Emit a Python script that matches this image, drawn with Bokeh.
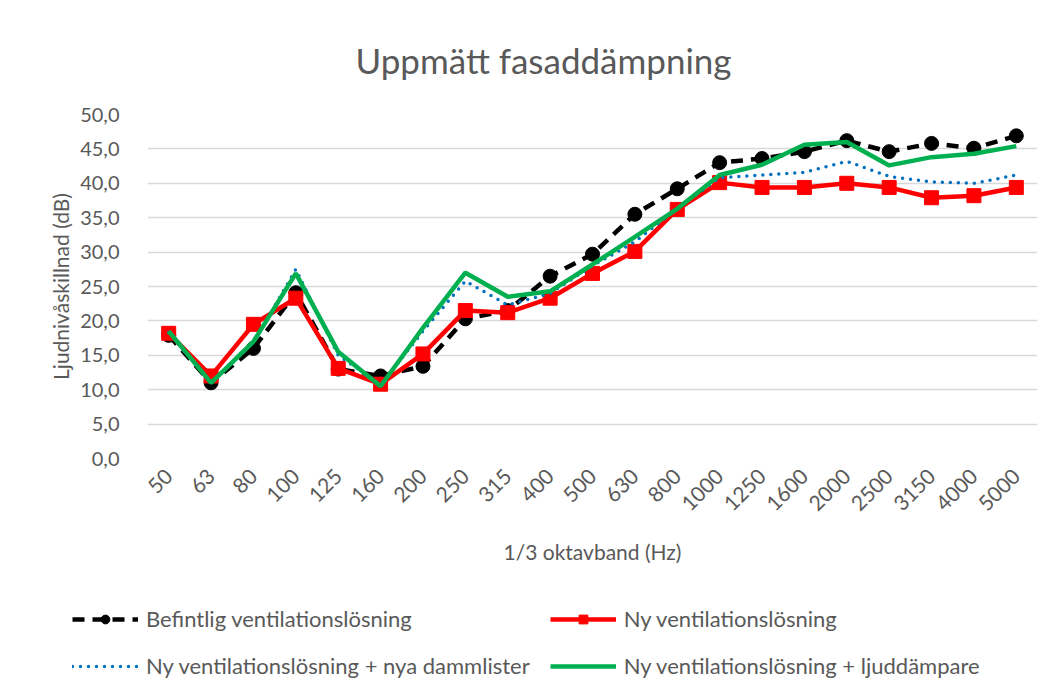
from bokeh.plotting import figure
from bokeh.models import (FactorRange, Range1d, CustomJSTickFormatter, Legend, LegendItem,
                          SingleIntervalTicker)
from bokeh.layouts import column, row
from bokeh.embed import file_html
from bokeh.resources import INLINE
import math

bands = ["50", "63", "80", "100", "125", "160", "200", "250", "315", "400", "500",
         "630", "800", "1000", "1250", "1600", "2000", "2500", "3150", "4000", "5000"]

befintlig = [17.9, 11.0, 16.0, 24.1, 13.0, 12.0, 13.4, 20.3, 21.5, 26.5, 29.7,
             35.5, 39.2, 43.0, 43.6, 44.6, 46.2, 44.6, 45.8, 45.1, 46.9]
ny = [18.2, 12.0, 19.5, 23.3, 13.1, 10.8, 15.2, 21.5, 21.2, 23.3, 26.9,
      30.1, 36.2, 40.1, 39.4, 39.4, 40.0, 39.4, 37.9, 38.2, 39.4]
ny_damm = [18.3, 11.0, 16.8, 27.5, 15.0, 10.7, 18.5, 25.8, 22.3, 24.0, 28.0,
           31.5, 36.3, 40.8, 41.2, 41.6, 43.2, 41.0, 40.2, 40.0, 41.2]
ny_ljud = [18.5, 11.0, 17.0, 26.9, 15.5, 10.5, 19.0, 27.0, 23.5, 24.3, 28.2,
           32.2, 36.3, 41.2, 42.7, 45.6, 46.0, 42.6, 43.8, 44.3, 45.4]
labels = ["Befintlig ventilationslösning", "Ny ventilationslösning",
          "Ny ventilationslösning + nya dammlister", "Ny ventilationslösning + ljuddämpare"]

FONT = "Lato"
GREY = "#595959"

p = figure(x_range=FactorRange(*bands), y_range=Range1d(0, 50),
           frame_width=890, frame_height=344,
           min_border_left=147, min_border_right=9, min_border_top=114, min_border_bottom=142,
           output_backend="svg", toolbar_location=None)

p.title.text = "Uppmätt fasaddämpning"
p.title.align = "left"
p.title.offset = 208
p.title.text_font = FONT
p.title.text_font_size = "35px"
p.title.text_font_style = "normal"
p.title.text_color = GREY
p.title.standoff = 68

p.outline_line_color = None
p.background_fill_color = "white"
p.border_fill_color = "white"

p.xgrid.grid_line_color = None
p.ygrid.grid_line_color = "#d9d9d9"
p.ygrid.grid_line_width = 1.3

p.yaxis.ticker = SingleIntervalTicker(interval=5)
p.yaxis.formatter = CustomJSTickFormatter(code="return tick.toFixed(1).replace('.', ',');")
for ax in (p.xaxis[0], p.yaxis[0]):
    ax.axis_line_color = None
    ax.major_tick_line_color = None
    ax.minor_tick_line_color = None
    ax.major_label_text_font = FONT
    ax.major_label_text_font_size = "20px"
    ax.major_label_text_color = GREY
    ax.axis_label_text_font = FONT
    ax.axis_label_text_font_size = "21px"
    ax.axis_label_text_font_style = "normal"
    ax.axis_label_text_color = GREY

p.yaxis.axis_label = "Ljudnivåskillnad (dB)"
p.yaxis.major_label_standoff = 22
p.yaxis.axis_label_standoff = 4
p.xaxis.axis_label = "1/3 oktavband (Hz)"
p.xaxis.major_label_orientation = math.pi / 4
p.xaxis.major_label_text_font_size = "21px"
p.xaxis.major_label_standoff = 8
p.xaxis.axis_label_standoff = 18

STYLES = [
    dict(color="black", width=4.5, dash="12 8", cap="butt", marker="circle"),
    dict(color="#FF0000", width=4.5, dash="solid", cap="butt", marker="square"),
    dict(color="#0070C0", width=3.5, dash="0 8", cap="round", marker=None),
    dict(color="#00B050", width=4.5, dash="solid", cap="butt", marker=None),
]
series = [befintlig, ny, ny_damm, ny_ljud]

for vals, st in zip(series, STYLES):
    p.line(bands, vals, line_color=st["color"], line_width=st["width"],
           line_dash=st["dash"], line_cap=st["cap"])
    if st["marker"]:
        p.scatter(bands, vals, marker=st["marker"], size=14,
                  fill_color=st["color"], line_color=st["color"])

# legend strip below the chart (proxy glyphs lie outside its visible range)
lg = figure(width=1046, height=90, x_range=Range1d(0, 1), y_range=Range1d(0, 1),
            min_border_left=0, min_border_right=0, min_border_top=0, min_border_bottom=0,
            x_axis_type=None, y_axis_type=None,
            output_backend="svg", toolbar_location=None)
lg.outline_line_color = None
lg.xgrid.visible = False
lg.ygrid.visible = False
items = []
for lab, st in zip(labels, STYLES):
    rs = [lg.line([-5, -4], [-5, -4], line_color=st["color"], line_width=st["width"],
                  line_dash=st["dash"], line_cap=st["cap"])]
    if st["marker"]:
        rs.append(lg.scatter([-5], [-5], marker=st["marker"], size=14,
                             fill_color=st["color"], line_color=st["color"]))
    items.append(LegendItem(label=lab, renderers=rs))

legend = Legend(items=items, orientation="horizontal", ncols=2, location=(72, 11))
legend.glyph_width = 66
legend.glyph_height = 22
legend.label_height = 22
legend.label_standoff = 8
legend.spacing = 20
legend.padding = 0
legend.margin = 0
legend.label_text_font = FONT
legend.label_text_font_size = "22px"
legend.label_text_color = GREY
legend.border_line_alpha = 0
legend.background_fill_alpha = 0
lg.add_layout(legend, "center")

open("out.html", "w").write(file_html(column(p, row(lg)), INLINE))
